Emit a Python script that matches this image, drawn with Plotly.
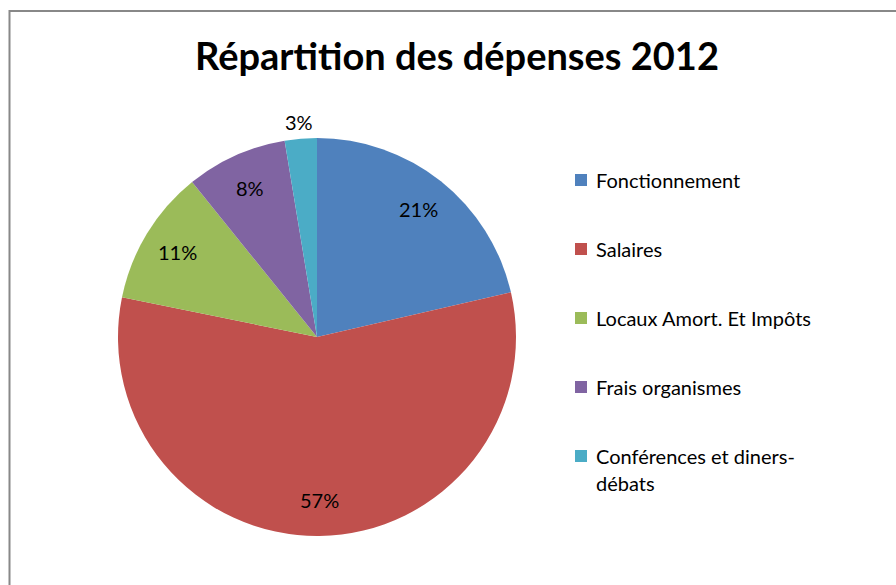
import math
import textwrap
import plotly.graph_objects as go

# ---- data ----
categories = ["Fonctionnement", "Salaires", "Locaux Amort. Et Impôts",
              "Frais organismes", "Conférences et diners-débats"]
values = [21.4, 56.8, 11.0, 8.2, 2.6]
colors = ["#4F81BD", "#C0504D", "#9BBB59", "#8064A2", "#4BACC6"]
title_text = "Répartition des dépenses 2012"

W, H = 896, 585
FONT = "Lato, Open Sans, Arial"

# pie geometry (pixels)
cx, cy, R = 317, 337, 199

def px(x):
    return x / W

def py(y):
    return 1 - y / H

fig = go.Figure()
fig.add_trace(go.Pie(
    labels=categories, values=values, sort=False, direction="clockwise",
    rotation=0, marker=dict(colors=colors, line=dict(width=0)),
    textinfo="none", hoverinfo="label+percent", showlegend=False,
    domain=dict(x=[px(cx - R), px(cx + R)], y=[py(cy + R), py(cy - R)]),
))

annotations = []
shapes = []

# percentage labels placed from data
total = sum(values)
cum = 0
for v in values:
    frac = v / total
    mid = (cum + frac / 2) * 2 * math.pi
    cum += frac
    rf = 0.82 if frac >= 0.05 else 1.085
    lx = cx + rf * R * math.sin(mid)
    ly = cy - rf * R * math.cos(mid)
    annotations.append(dict(
        x=px(lx), y=py(ly), xref="paper", yref="paper", showarrow=False,
        text=f"{round(frac * 100)}%", font=dict(family=FONT, size=20, color="#000000"),
        xanchor="center", yanchor="middle"))

# manual legend
row0, row_gap, line_gap = 180, 69, 27
for i, (cat, col) in enumerate(zip(categories, colors)):
    yrow = row0 + i * row_gap
    shapes.append(dict(type="rect", xref="paper", yref="paper",
                       x0=px(575), x1=px(587), y0=py(yrow + 6), y1=py(yrow - 6),
                       fillcolor=col, line=dict(width=0)))
    for j, line in enumerate(textwrap.wrap(cat, 24)):
        annotations.append(dict(
            x=px(594), y=py(yrow + j * line_gap), xref="paper", yref="paper",
            showarrow=False, text=line, xanchor="left", yanchor="middle",
            font=dict(family=FONT, size=20, color="#000000")))

# title
annotations.append(dict(
    x=px(457), y=py(55), xref="paper", yref="paper", showarrow=False,
    text=f"<b>{title_text}</b>", xanchor="center", yanchor="middle",
    font=dict(family=FONT, size=38, color="#000000")))

# chart border
shapes.append(dict(type="rect", xref="paper", yref="paper",
                   x0=px(9.5), x1=px(W + 20), y0=py(H + 20), y1=py(11),
                   line=dict(color="#888888", width=2), fillcolor="rgba(0,0,0,0)"))

fig.update_layout(
    width=W, height=H, margin=dict(l=0, r=0, t=0, b=0),
    paper_bgcolor="white", plot_bgcolor="white",
    annotations=annotations, shapes=shapes,
)

fig.write_html("out.html", config={"displayModeBar": False})
with open("out.html", encoding="utf-8") as f:
    html = f.read()
html = html.replace("<body>", '<body style="margin:0;overflow:hidden">', 1)
with open("out.html", "w", encoding="utf-8") as f:
    f.write(html)
